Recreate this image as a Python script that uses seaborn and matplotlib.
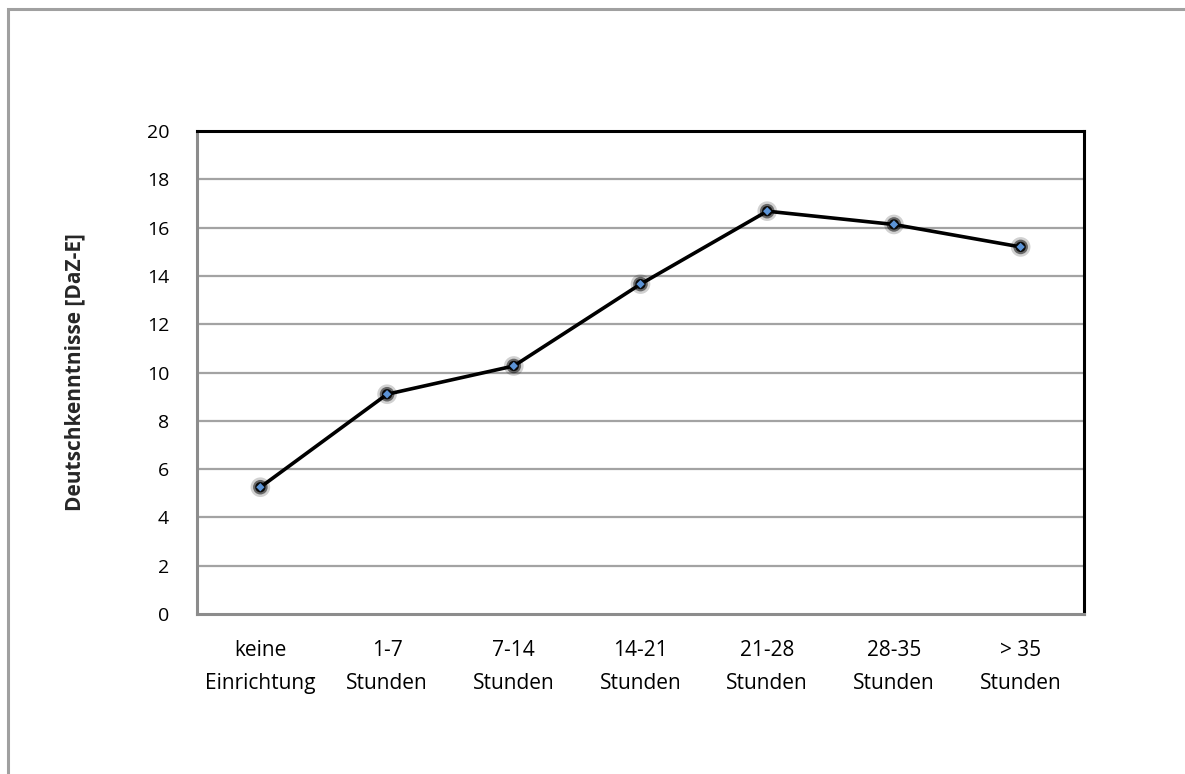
import matplotlib
matplotlib.use("Agg")
import matplotlib.pyplot as plt
from matplotlib.patches import Rectangle
import seaborn as sns
import pandas as pd

categories = ["keine\nEinrichtung", "1-7\nStunden", "7-14\nStunden", "14-21\nStunden",
              "21-28\nStunden", "28-35\nStunden", "> 35\nStunden"]
values = [5.25, 9.1, 10.27, 13.66, 16.68, 16.13, 15.2]
y_ticks = [0, 2, 4, 6, 8, 10, 12, 14, 16, 18, 20]
y_label = "Deutschkenntnisse [DaZ-E]"

sns.set_theme(style="white")
plt.rcParams["font.family"] = ["Open Sans", "DejaVu Sans"]

df = pd.DataFrame({"pos": range(len(categories)), "value": values})

fig = plt.figure(figsize=(11.85, 7.74), dpi=100)
fig.patch.set_facecolor("white")
ax = fig.add_axes([197 / 1185, 1 - 614 / 774, (1084 - 197) / 1185, (614 - 131) / 774])

# outer chart frame
fig.add_artist(Rectangle((8 / 1185, -0.05), 1.2, 1 - 9 / 774 + 0.05,
                         transform=fig.transFigure, fill=False,
                         edgecolor="#a0a0a0", linewidth=2.2, zorder=0))

for t in y_ticks[1:-1]:
    ax.axhline(t, color="#a3a3a3", linewidth=1.6, zorder=1)

sns.lineplot(data=df, x="pos", y="value", ax=ax, color="black", linewidth=2.6,
             zorder=3, legend=False)
# soft dark halo behind each marker
sns.scatterplot(data=df, x="pos", y="value", ax=ax, s=200, color="#000000",
                alpha=0.18, edgecolor="none", zorder=4, legend=False)
sns.scatterplot(data=df, x="pos", y="value", ax=ax, s=110, color="#000000",
                alpha=0.5, edgecolor="none", zorder=4, legend=False)
sns.scatterplot(data=df, x="pos", y="value", ax=ax, s=55, color="#050505",
                alpha=0.95, edgecolor="none", zorder=5, legend=False)
sns.scatterplot(data=df, x="pos", y="value", ax=ax, s=18, color="#5b93d6",
                marker="D", edgecolor="none", zorder=6, legend=False)

ax.set_xlim(-0.5, len(categories) - 0.5)
ax.set_ylim(0, 20)
ax.set_yticks(y_ticks)
ax.set_yticklabels([str(t) for t in y_ticks])
ax.set_xticks(range(len(categories)))
ax.set_xticklabels(categories, linespacing=1.7, fontsize=15)
ax.tick_params(axis="both", length=0, colors="black")
ax.tick_params(axis="y", labelsize=14, pad=20)
ax.tick_params(axis="x", pad=19)
ax.set_xlabel("")
ax.set_ylabel(y_label, fontsize=15, fontweight="bold", labelpad=44)

ax.spines["top"].set_color("black")
ax.spines["right"].set_color("black")
ax.spines["top"].set_linewidth(2.2)
ax.spines["right"].set_linewidth(2.2)
ax.spines["left"].set_color("#8c8c8c")
ax.spines["bottom"].set_color("#8c8c8c")
ax.spines["left"].set_linewidth(2.2)
ax.spines["bottom"].set_linewidth(2.2)

fig.savefig("out.png", dpi=100, facecolor="white")
